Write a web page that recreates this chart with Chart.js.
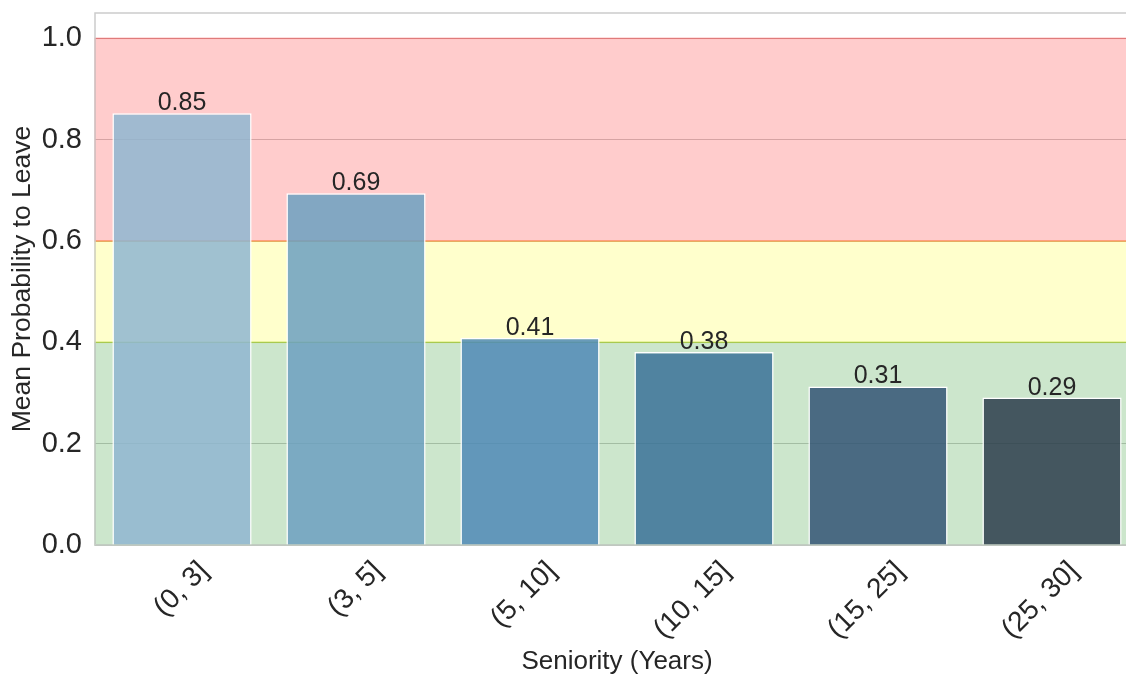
<!DOCTYPE html>
<html>
<head>
<meta charset="utf-8">
<script src="https://cdn.jsdelivr.net/npm/chart.js@4.4.0/dist/chart.umd.min.js"></script>
<style>
  html, body { margin: 0; padding: 0; background: #fff; overflow: hidden; }
</style>
</head>
<body>
<canvas id="chart" width="1145" height="677"></canvas>
<script>
// data
const seniorityBins = ["(0, 3]", "(3, 5]", "(5, 10]", "(10, 15]", "(15, 25]", "(25, 30]"];
const meanProbLeave = [0.852, 0.694, 0.409, 0.381, 0.313, 0.291];
const yTicks = [0.0, 0.2, 0.4, 0.6, 0.8, 1.0];
// risk zones: low / medium / high
const zoneEdges = [0.0, 0.4, 0.6, 1.0];

const barColors = ["#8fb6d0", "#6ca0c0", "#4f8ab6", "#3a7298", "#335574", "#2c3d4b"];
const zoneColors = ["0,128,0", "255,255,0", "255,0,0"];
const textColor = "#262626";
const fontFamily = "'Liberation Sans', Arial, sans-serif";

function withAlpha(hex, a) {
  const n = parseInt(hex.slice(1), 16);
  return `rgba(${(n >> 16) & 255}, ${(n >> 8) & 255}, ${n & 255}, ${a})`;
}

// colored bands behind the bars + light frame
const zonesPlugin = {
  id: "zones",
  beforeDatasetsDraw(chart) {
    const { ctx, chartArea: area, scales: { y } } = chart;
    ctx.save();
    for (let i = 0; i < zoneColors.length; i++) {
      const top = y.getPixelForValue(zoneEdges[i + 1]);
      const bottom = y.getPixelForValue(zoneEdges[i]);
      ctx.fillStyle = `rgba(${zoneColors[i]}, 0.2)`;
      ctx.fillRect(area.left, top, area.right - area.left, bottom - top);
      ctx.strokeStyle = `rgba(${zoneColors[i]}, 0.3)`;
      ctx.lineWidth = 1.5;
      ctx.strokeRect(area.left, top, area.right - area.left, bottom - top);
    }
    ctx.strokeStyle = "#cccccc";
    ctx.lineWidth = 1.5;
    ctx.strokeRect(area.left, area.top, area.right - area.left, area.bottom - area.top);
    ctx.restore();
  }
};

// value above each bar
const barLabelsPlugin = {
  id: "barLabels",
  afterDatasetsDraw(chart) {
    const { ctx } = chart;
    const meta = chart.getDatasetMeta(0);
    ctx.save();
    ctx.fillStyle = textColor;
    ctx.font = `25px ${fontFamily}`;
    ctx.textAlign = "center";
    ctx.textBaseline = "alphabetic";
    meta.data.forEach((bar, i) => {
      ctx.fillText(meanProbLeave[i].toFixed(2), bar.x, bar.y - 3);
    });
    ctx.restore();
  }
};

new Chart(document.getElementById("chart"), {
  type: "bar",
  data: {
    labels: seniorityBins,
    datasets: [{
      data: meanProbLeave,
      backgroundColor: barColors.map(c => withAlpha(c, 0.85)),
      borderColor: "#ffffff",
      borderWidth: 1.5,
      barPercentage: 0.8,
      categoryPercentage: 1.0
    }]
  },
  options: {
    responsive: false,
    animation: false,
    layout: { padding: { top: 13, right: 6, left: 6, bottom: 0 } },
    plugins: {
      legend: { display: false },
      tooltip: { enabled: false }
    },
    scales: {
      x: {
        afterFit(scale) {
          scale.height = 132;
          scale.paddingLeft = 0;
          scale.paddingRight = 0;
        },
        grid: { display: false },
        border: { display: false },
        ticks: {
          color: textColor,
          font: { family: fontFamily, size: 28 },
          minRotation: 45,
          maxRotation: 45,
          labelOffset: 22,
          padding: 2
        },
        title: {
          display: true,
          text: "Seniority (Years)",
          color: textColor,
          font: { family: fontFamily, size: 26 },
          padding: { top: 0, bottom: 0 }
        }
      },
      y: {
        min: 0,
        max: 1.05,
        afterBuildTicks(scale) {
          scale.ticks = yTicks.map(v => ({ value: v }));
        },
        afterFit(scale) {
          scale.width = 89;
          scale.paddingTop = 0;
          scale.paddingBottom = 0;
        },
        grid: { color: "#cccccc", lineWidth: 1, drawTicks: false },
        border: { display: false },
        ticks: {
          color: textColor,
          font: { family: fontFamily, size: 29 },
          padding: 13,
          callback: v => Number(v).toFixed(1)
        },
        title: {
          display: true,
          text: "Mean Probability to Leave",
          color: textColor,
          font: { family: fontFamily, size: 26.5 },
          padding: { top: 1, bottom: 0 }
        }
      }
    }
  },
  plugins: [zonesPlugin, barLabelsPlugin]
});
</script>
</body>
</html>
